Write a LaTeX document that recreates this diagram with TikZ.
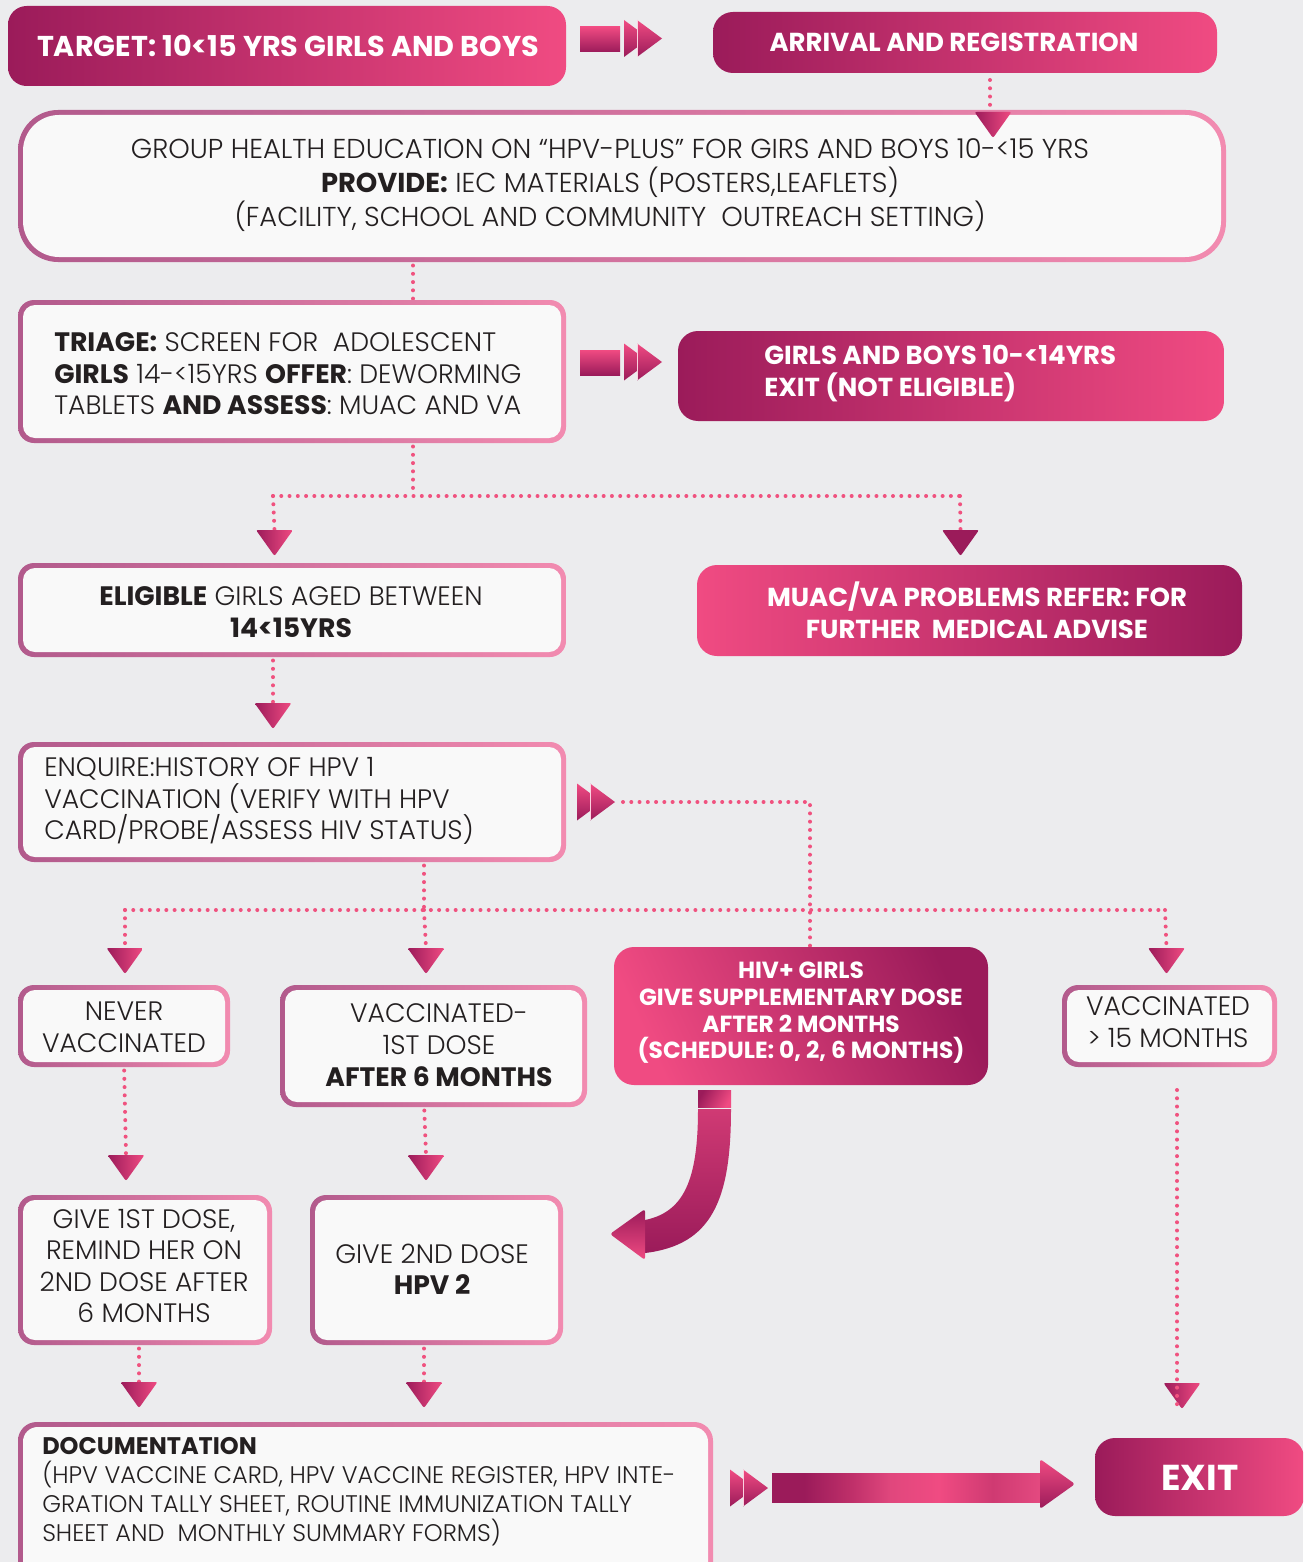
\documentclass[tikz,border=0pt]{standalone}
\usepackage{fontspec}
\setmainfont{Poppins}[UprightFont={* Light}, BoldFont={* Bold}]
\usetikzlibrary{calc,backgrounds}
\definecolor{bg}{HTML}{ECECEE}
\definecolor{dk}{HTML}{9B1B5A}
\definecolor{pk}{HTML}{F04B82}
\definecolor{bl}{HTML}{B25A8C}
\definecolor{br}{HTML}{F28BB0}
\definecolor{boxfill}{HTML}{F9F9F9}
\definecolor{txt}{HTML}{231F20}
\definecolor{dotc}{HTML}{F0527F}
\definecolor{ma}{HTML}{C0306A}
\definecolor{mb}{HTML}{E0477D}
\definecolor{mc}{HTML}{CF3A72}
\definecolor{md}{HTML}{E44A80}
\definecolor{me}{HTML}{D03A74}
\pgfdeclarehorizontalshading{barsh}{100bp}{color(0bp)=(dk); color(25bp)=(dk); color(31bp)=(dk); color(40bp)=(ma); color(47bp)=(mb); color(56bp)=(pk); color(66bp)=(mc); color(75bp)=(md); color(100bp)=(md)}
\def\PX{0.75pt}
\tikzset{
  dots/.style={dotc, line width=3pt, line cap=round, dash pattern=on 0pt off 6.2pt},
  wfill/.style={fill=boxfill, inner sep=0pt},
  tx/.style={text=txt, align=center, inner sep=0pt, font=\fontsize{20}{24}\selectfont},
  wtx/.style={text=white, align=center, inner sep=0pt, font=\bfseries\fontsize{19.5}{24}\selectfont},
}
% white box with gradient border: name x1 y1 x2 y2 outer-radius inner-radius
\newcommand\wbox[7]{%
  \shade[left color=bl, right color=br, rounded corners=#6] (#2,#3) rectangle (#4,#5);
  \node[wfill, rounded corners=#7, minimum width={(#4-#2-10)*\PX}, minimum height={(#5-#3-10)*\PX}] (#1) at ({(#2+#4)/2},{(#3+#5)/2}) {};}
% shaded box: name x1 y1 x2 y2 radius shading
\newcommand\gbox[7]{%
  \node[inner sep=0pt, rounded corners=#6, minimum width={(#4-#2)*\PX}, minimum height={(#5-#3)*\PX}, shade, #7] (#1) at ({(#2+#4)/2},{(#3+#5)/2}) {};}
% triangle: name x ytop shading
\newcommand\tri[4]{%
  \coordinate (#1) at (#2,#3);
  \shade[#4, rounded corners=1.5pt] (#2-18.5,#3) -- (#2+18.5,#3) -- (#2,#3+26) -- cycle;}
% double chevron: x ymid
\newcommand\dchev[2]{%
  \shade[top color=pk,bottom color=dk] (#1,#2-18.5) -- (#1+25,#2) -- (#1,#2+18.5) -- cycle;
  \shade[top color=pk,bottom color=dk] (#1+13,#2-18.5) -- (#1+38,#2) -- (#1+13,#2+18.5) -- cycle;
  \draw[pk!25!white, line width=0.6pt] (#1+13,#2-18.2) -- (#1+13,#2+18.2);}
\begin{document}
\begin{tikzpicture}[x=0.75pt,y=-0.75pt]
\useasboundingbox (0,0) rectangle (1303,1562);
\clip (0,0) rectangle (1303,1562);
\begin{scope}[on background layer]
  \fill[bg] (0,0) rectangle (1303,1562);
\end{scope}

% ---- top row
\gbox{target}{8}{6}{566}{86}{14pt}{left color=dk,right color=pk}
\node[wtx, font=\bfseries\fontsize{21.5}{24}\selectfont] (target-t) at (288,46) {TARGET: 10<15 YRS GIRLS AND BOYS};
\shade[top color=pk,bottom color=dk] (580,27) rectangle (620,52);
\dchev{624}{38.5}
\gbox{arrival}{713}{12}{1217}{73}{15pt}{left color=dk,right color=pk}
\node[wtx] (arrival-t) at (954,42) {ARRIVAL AND REGISTRATION};

% ---- group education
\wbox{group}{18}{110}{1226}{262}{30pt}{27pt}
\node[tx, font=\fontsize{20.5}{25.5}\selectfont] (group-t) at (610,185) {GROUP HEALTH EDUCATION ON “HPV-PLUS” FOR GIRS AND BOYS 10-<15 YRS\\
\textbf{PROVIDE:} IEC MATERIALS (POSTERS,LEAFLETS)\\
(FACILITY, SCHOOL AND COMMUNITY\ \ OUTREACH SETTING)};
\coordinate (c1) at (990,80);
\tri{tArr}{993}{112}{left color=dk,right color=pk}

% ---- triage
\wbox{triage}{18}{300}{566}{443}{12pt}{9pt}
\node[tx, align=left, anchor=west, font=\fontsize{20}{23.6}\selectfont] (triage-t) at (54,374) {\textbf{TRIAGE:} SCREEN FOR\ \ ADOLESCENT\\
\textbf{GIRLS} 14-<15YRS \textbf{OFFER}: DEWORMING\\
TABLETS \textbf{AND ASSESS}: MUAC AND VA};
\shade[top color=pk,bottom color=dk] (580,350) rectangle (620,375);
\dchev{624}{362}
\gbox{noteleg}{678}{331}{1224}{421}{15pt}{left color=dk,right color=pk}
\node[wtx, align=left, anchor=west] (noteleg-t) at (764,374) {GIRLS AND BOYS 10-<14YRS\\EXIT (NOT ELIGIBLE)};

% ---- split
\coordinate (c2) at (413,0);
\coordinate (hM) at (413,496);
\coordinate (hL) at (273,496);
\coordinate (hR) at (960,496);
\tri{tEl}{274.5}{530}{left color=dk,right color=pk}
\tri{tMu}{960.5}{530}{left color=dk,right color=dk}

\wbox{eligible}{18}{563}{566}{657}{12pt}{9pt}
\node[tx] (eligible-t) at (291,612) {\textbf{ELIGIBLE} GIRLS AGED BETWEEN\\\textbf{14<15YRS}};
\gbox{muac}{697}{565}{1242}{656}{15pt}{left color=pk,right color=dk}
\node[wtx] (muac-t) at (977,610) {MUAC/VA PROBLEMS REFER: FOR\\FURTHER\ \ MEDICAL ADVISE};

\coordinate (c3) at (273,0);
\tri{tEn}{273}{703}{left color=dk,right color=pk}

% ---- enquire
\wbox{enquire}{18}{742}{566}{862}{12pt}{9pt}
\node[tx, align=left, anchor=west, font=\fontsize{20}{23.6}\selectfont] (enquire-t) at (44,801) {ENQUIRE:HISTORY OF HPV 1\\VACCINATION (VERIFY WITH HPV\\CARD/PROBE/ASSESS HIV STATUS)};
\dchev{577}{802}
\coordinate (e1) at (623,802);
\coordinate (e2) at (810,802);
\coordinate (c4) at (424,0);
\coordinate (sM) at (424,910);
\coordinate (sL) at (125,910);
\coordinate (sR) at (1165,910);
\tri{tNv}{125}{948}{left color=dk,right color=pk}
\tri{tV1}{426}{948}{left color=dk,right color=pk}
\tri{tV15}{1166.5}{948}{left color=dk,right color=pk}

% ---- second row
\wbox{never}{18}{985}{230}{1067}{12pt}{9pt}
\node[tx] (never-t) at (124,1027) {NEVER\\VACCINATED};
\wbox{vac1}{280}{985}{587}{1107}{12pt}{9pt}
\node[tx] (vac1-t) at (439,1045) {VACCINATED-\\1ST DOSE\\\textbf{AFTER 6 MONTHS}};
\gbox{hiv}{614}{947}{988}{1085}{15pt}{left color=pk,right color=dk,shading angle=115}
\node[wtx, font=\bfseries\fontsize{17.5}{20}\selectfont] (hiv-t) at (801,1013) {HIV+ GIRLS\\GIVE SUPPLEMENTARY DOSE\\AFTER 2 MONTHS\\(SCHEDULE: 0, 2, 6 MONTHS)};
\wbox{vac15}{1062}{985}{1277}{1067}{12pt}{9pt}
\node[tx] (vac15-t) at (1168,1022) {VACCINATED\\> 15 MONTHS};

% curved arrow
\shade[left color=dk, right color=pk, shading angle=60] (698,1090) rectangle (731,1107);
\shade[top color=me, middle color=pk, bottom color=dk] (698,1109) -- (731,1109) .. controls (731,1200) and (712,1245) .. (645,1253) -- (645,1220) .. controls (684,1212) and (698,1180) .. (698,1109) -- cycle;
\shade[top color=dk, bottom color=pk, rounded corners=2pt] (645,1209) -- (645,1260) -- (610,1234) -- cycle;

\tri{tG1}{126}{1155}{left color=dk,right color=pk}
\tri{tG2}{426}{1155}{left color=dk,right color=pk}

% ---- third row
\wbox{give1}{18}{1195}{272}{1345}{12pt}{9pt}
\node[tx, font=\fontsize{20}{23.6}\selectfont] (give1-t) at (144,1266) {GIVE 1ST DOSE,\\REMIND HER ON\\2ND DOSE AFTER\\6 MONTHS};
\wbox{give2}{310}{1195}{563}{1345}{12pt}{9pt}
\node[tx, font=\fontsize{20}{23.3}\selectfont] (give2-t) at (432,1269) {GIVE 2ND DOSE\\\textbf{HPV 2}};

\tri{tD1}{139}{1382}{left color=dk,right color=pk}
\tri{tD2}{424}{1382}{left color=dk,right color=pk}
\tri{tEx}{1182}{1383}{left color=dk,right color=pk}
\coordinate (x1) at (1177,1090);
\coordinate (x2) at (1177,1405);
\draw[dots] (x1) -- (x2);

% ---- documentation
\wbox{doc}{18}{1422}{713}{1600}{14pt}{11pt}
\node[tx, align=left, anchor=west, font=\fontsize{18}{21.75}\selectfont] (doc-t) at (42,1492) {\textbf{DOCUMENTATION}\\(HPV VACCINE CARD, HPV VACCINE REGISTER, HPV INTE-\\GRATION TALLY SHEET, ROUTINE IMMUNIZATION TALLY\\SHEET AND\ \ MONTHLY SUMMARY FORMS)};
\dchev{730}{1488}
\shade[shading=barsh] (772,1473) rectangle (1041,1502);
\shade[top color=pk, bottom color=dk, rounded corners=2pt] (1040,1459) -- (1075,1484) -- (1040,1509) -- cycle;
\gbox{exit}{1095}{1438}{1304}{1516}{15pt}{left color=dk,right color=pk}
\node[wtx, font=\bfseries\fontsize{27}{30}\selectfont] (exit-t) at (1200,1478) {EXIT};

% ---- dotted connectors (behind)
\begin{scope}[on background layer]
  \draw[dots] (c1) -- (c1 |- group.north);
  \draw[dots] (group.south -| c2) -- (triage.north -| c2);
  \draw[dots] (triage.south -| c2) -- (hM);
  \draw[dots] (hL) -- (hR);
  \draw[dots] (hL) -- (tEl);
  \draw[dots] (hR) -- (tMu);
  \draw[dots] (eligible.south -| c3) -- (tEn);
  \draw[dots] (e1) -- (e2) -- (hiv.north -| e2);
  \draw[dots] (enquire.south -| c4) -- (sM);
  \draw[dots] (sL) -- (sR);
  \draw[dots] (sL) -- (tNv);
  \draw[dots] (sM) -- (tV1);
  \draw[dots] (sR) -- (tV15);
  \draw[dots] (never.south) -- (tG1);
  \draw[dots] (vac1.south -| c4) -- (tG2);
  \draw[dots] (give1.south -| tD1) -- (tD1);
  \draw[dots] (give2.south -| tD2) -- (tD2);
\end{scope}
\end{tikzpicture}
\end{document}
